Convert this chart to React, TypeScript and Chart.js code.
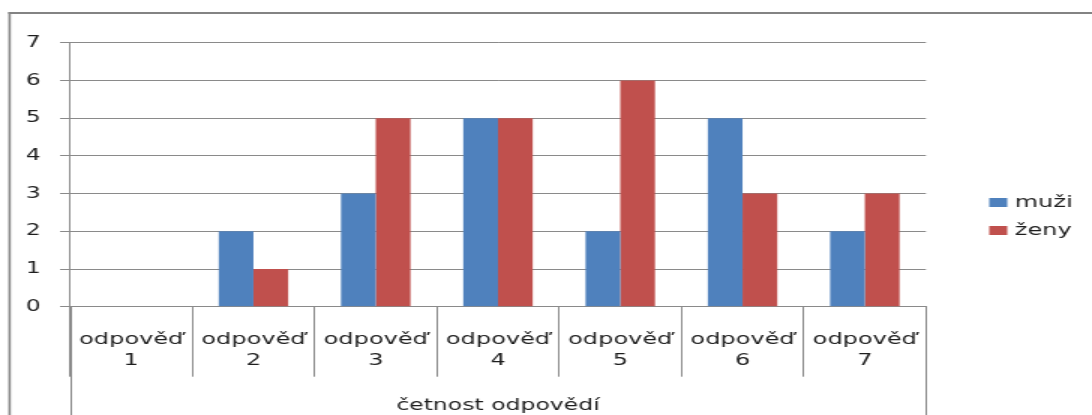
import React, { useEffect, useRef } from "react";
import { Chart, registerables } from "chart.js";

Chart.register(...registerables);

// Category labels (two lines each) and the two series
const categories: string[][] = [
  ["odpověď", "1"],
  ["odpověď", "2"],
  ["odpověď", "3"],
  ["odpověď", "4"],
  ["odpověď", "5"],
  ["odpověď", "6"],
  ["odpověď", "7"],
];
const seriesNames: string[] = ["muži", "ženy"];
const muzi: number[] = [0, 2, 3, 5, 2, 5, 2];
const zeny: number[] = [0, 1, 5, 5, 6, 3, 3];
const axisTitle = "četnost odpovědí";

const BLUE = "#4F81BD";
const RED = "#C0504D";
const GRID = "#8a8a8a";
const FRAME = "#838383";
const TEXT = "#1e1e1e";
const FONT = "'DejaVu Sans', Verdana, sans-serif";

// The drawing surface is laid out narrow and displayed wider (1.5x horizontally)
const LOGICAL_W = 728;
const DISPLAY_W = 1092;
const H = 415;

const framePlugin = {
  id: "frameAndLegend",
  afterDraw(chart: any) {
    const { ctx, chartArea, width, height } = chart;
    ctx.save();
    // outer chart frame (runs past the right and bottom edges)
    ctx.fillStyle = FRAME;
    ctx.fillRect(5.6, 12, 1.6, height);
    ctx.fillRect(5.6, 12, width, 2);

    // outer category separators continue down past the axis title
    ctx.strokeStyle = GRID;
    ctx.lineWidth = 1;
    [chartArea.left, chartArea.right].forEach((x: number) => {
      const px = Math.round(x) + 0.5;
      ctx.beginPath();
      ctx.moveTo(px, chartArea.bottom);
      ctx.lineTo(px, height);
      ctx.stroke();
    });

    // legend
    ctx.font = `16px ${FONT}`;
    ctx.textBaseline = "alphabetic";
    ctx.textAlign = "left";
    chart.data.datasets.forEach((ds: any, i: number) => {
      const top = 198 + i * 28;
      ctx.fillStyle = ds.backgroundColor;
      ctx.fillRect(659.5, top, 12, 9);
      ctx.fillStyle = TEXT;
      ctx.fillText(ds.label, 676.5, top + 9.3);
    });
    ctx.restore();
  },
};

export default function App() {
  const ref = useRef<HTMLCanvasElement>(null);

  useEffect(() => {
    const canvas = ref.current;
    if (!canvas) return;
    const chart = new Chart(canvas, {
      type: "bar",
      data: {
        labels: categories,
        datasets: [
          { label: seriesNames[0], data: muzi, backgroundColor: BLUE, borderWidth: 0 },
          { label: seriesNames[1], data: zeny, backgroundColor: RED, borderWidth: 0 },
        ],
      },
      options: {
        responsive: false,
        animation: false,
        devicePixelRatio: 1,
        layout: { padding: { top: 42.8, left: 0, right: 110.7, bottom: 0 } },
        datasets: { bar: { categoryPercentage: 0.568, barPercentage: 1 } },
        plugins: {
          legend: { display: false },
          tooltip: { enabled: false },
        },
        scales: {
          x: {
            grid: {
              offset: true,
              drawOnChartArea: false,
              drawTicks: true,
              tickLength: 70,
              color: GRID,
              lineWidth: 1,
            },
            border: { display: true, color: GRID, width: 1 },
            ticks: {
              font: { family: FONT, size: 16, lineHeight: 1.3 },
              color: TEXT,
              padding: -47,
              maxRotation: 0,
              autoSkip: false,
            },
            title: {
              display: true,
              text: axisTitle,
              font: { family: FONT, size: 15.7, lineHeight: 1.2 },
              color: TEXT,
              padding: 0,
            },
            afterFit: (s: any) => {
              s.height = H - 306.7;
            },
          },
          y: {
            min: 0,
            max: 7,
            ticks: {
              stepSize: 1,
              font: { family: FONT, size: 15.5 },
              color: TEXT,
              padding: 13,
            },
            grid: { color: GRID, lineWidth: 1, drawTicks: true, tickLength: 6.7 },
            border: { display: true, color: GRID, width: 1 },
            afterFit: (s: any) => {
              s.width = 46.7;
            },
          },
        },
      },
      plugins: [framePlugin],
    });
    return () => chart.destroy();
  }, []);

  return (
    <div
      style={{
        position: "absolute",
        left: 0,
        top: 0,
        width: DISPLAY_W,
        height: H,
        overflow: "hidden",
        background: "#fff",
      }}
    >
      <canvas
        ref={ref}
        width={LOGICAL_W}
        height={H}
        style={{ width: `${DISPLAY_W}px`, height: `${H}px`, display: "block" }}
      />
    </div>
  );
}
